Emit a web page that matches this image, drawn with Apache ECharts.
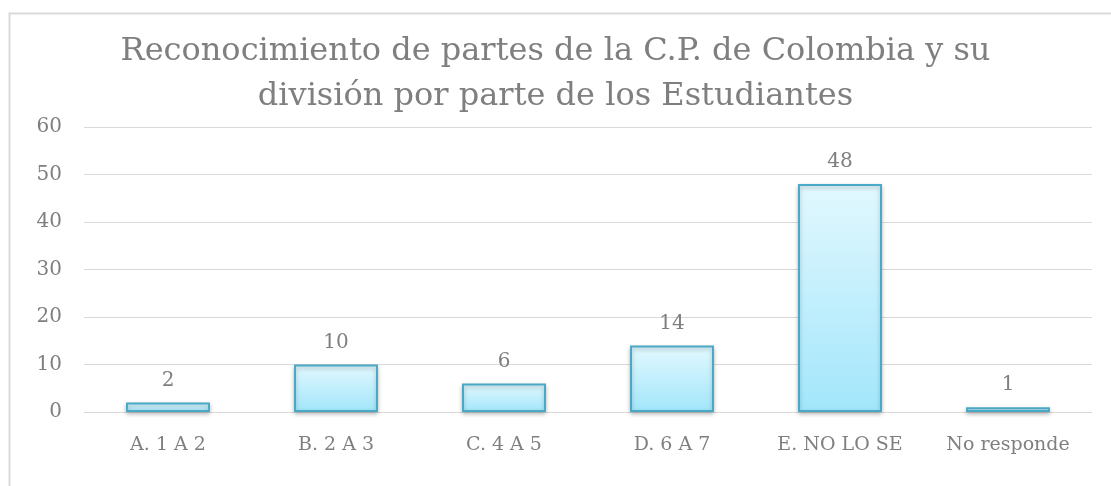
<!DOCTYPE html>
<html>
<head>
<meta charset="UTF-8">
<title>Reconocimiento de partes</title>
<script src="https://cdn.jsdelivr.net/npm/echarts@6/dist/echarts.min.js"></script>
<style>
  html, body {margin:0; padding:0; background:#fff;}
  #chart {width:1111px; height:486px;}
</style>
</head>
<body>
<div id="chart"></div>
<script>
const categories = ['A. 1 A 2', 'B. 2 A 3', 'C. 4 A 5', 'D. 6 A 7', 'E. NO LO SE', 'No responde'];
const values = [2, 10, 6, 14, 48, 1];
const titleText = 'Reconocimiento de partes de la C.P. de Colombia y su\ndivisión por parte de los Estudiantes';

const font = 'DejaVu Serif';
const grey = '#7f7f7f';

const chart = echarts.init(document.getElementById('chart'));
chart.setOption({
  animation: false,
  graphic: [{
    type: 'rect',
    shape: {x: 9.5, y: 13.5, width: 1300, height: 700},
    style: {fill: 'none', stroke: '#d9d9d9', lineWidth: 2},
    silent: true
  }],
  title: {
    text: titleText,
    left: 'center',
    top: 24,
    textStyle: {fontFamily: font, fontSize: 32, fontWeight: 'normal', color: grey, lineHeight: 45}
  },
  grid: {left: 84, right: 19, top: 127, bottom: 74, containLabel: false},
  xAxis: {
    type: 'category',
    data: categories,
    axisLine: {lineStyle: {color: '#d9d9d9', width: 1}},
    axisTick: {show: false},
    axisLabel: {fontFamily: font, fontSize: 19, color: grey, margin: 24}
  },
  yAxis: {
    type: 'value',
    min: 0, max: 60, interval: 10,
    axisLine: {show: false},
    axisTick: {show: false},
    splitLine: {lineStyle: {color: '#d9d9d9', width: 1}},
    axisLabel: {fontFamily: font, fontSize: 20, color: grey, margin: 22}
  },
  series: [{
    type: 'bar',
    data: values,
    barWidth: '50%',
    itemStyle: {
      color: new echarts.graphic.LinearGradient(0, 0, 0, 1, [
        {offset: 0, color: '#e2f8fe'},
        {offset: 1, color: '#a2e6fb'}
      ]),
      borderColor: '#4aaac6',
      borderWidth: 2,
      shadowColor: 'rgba(0,0,0,0.25)',
      shadowBlur: 4,
      shadowOffsetY: 2
    },
    label: {show: true, position: 'top', distance: 12, fontFamily: font, fontSize: 20, color: grey}
  }]
});
</script>
</body>
</html>
